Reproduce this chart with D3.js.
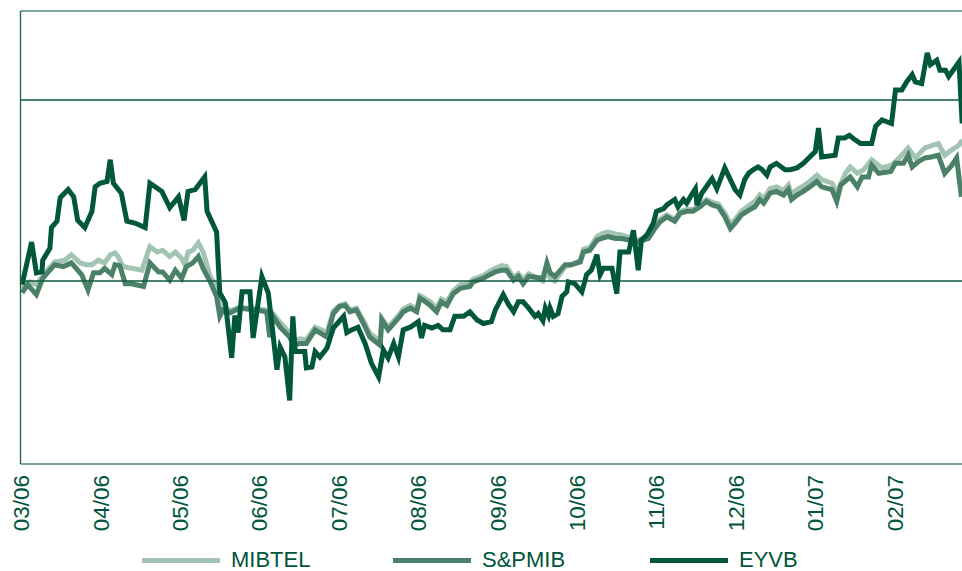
<!DOCTYPE html>
<html>
<head>
<meta charset="utf-8">
<script src="https://cdn.jsdelivr.net/npm/d3@7"></script>
<style>
body { margin: 0; background: #fff; }
</style>
</head>
<body>
<div id="chart"></div>
<script>
// month labels, one per tick (x value = months since 03/06)
var tickLabels = ["03/06", "04/06", "05/06", "06/06", "07/06", "08/06",
                  "09/06", "10/06", "11/06", "12/06", "01/07", "02/07"];
var seriesNames = ["MIBTEL", "S&PMIB", "EYVB"];
var gridValues = [100, 120];

// [month, index value]
var mibtel = [
    [0.02, 99.2], [0.12, 99.9], [0.20, 99.6], [0.31, 100.9], [0.43, 102.1], [0.56, 102.3], [0.64, 102.9],
    [0.75, 102.0], [0.83, 101.8], [0.90, 101.8], [0.98, 102.3], [1.06, 102.0], [1.13, 102.9], [1.19, 103.1],
    [1.23, 102.7], [1.29, 101.6], [1.40, 101.4], [1.53, 101.2], [1.63, 103.8], [1.72, 103.2], [1.79, 103.4],
    [1.88, 102.7], [1.95, 103.2], [2.03, 102.5], [2.07, 101.8], [2.11, 103.2], [2.17, 103.4], [2.24, 104.2],
    [2.30, 103.2], [2.39, 100.5], [2.47, 99.4], [2.51, 96.8], [2.55, 97.3], [2.64, 96.7], [2.76, 97.1],
    [2.97, 96.9], [3.10, 96.8], [3.14, 94.6], [3.18, 96.4], [3.27, 95.4], [3.39, 94.3], [3.44, 93.4],
    [3.52, 93.6], [3.60, 93.5], [3.71, 94.9], [3.86, 94.3], [3.94, 96.7], [4.02, 97.3], [4.09, 97.5],
    [4.15, 96.8], [4.23, 97.0], [4.32, 95.6], [4.40, 94.2], [4.53, 93.4], [4.55, 95.9], [4.63, 94.9],
    [4.70, 95.6], [4.78, 96.4], [4.82, 96.9], [4.91, 97.3], [4.99, 96.9], [5.03, 98.4], [5.07, 98.2],
    [5.16, 97.7], [5.24, 97.0], [5.30, 98.0], [5.37, 97.7], [5.45, 98.9], [5.54, 99.6], [5.66, 99.8],
    [5.70, 100.2], [5.83, 100.6], [5.91, 101.1], [5.98, 101.4], [6.06, 101.7], [6.12, 101.6], [6.21, 100.4],
    [6.27, 100.8], [6.33, 100.2], [6.40, 100.8], [6.58, 100.0], [6.63, 101.4], [6.67, 100.3], [6.73, 100.0],
    [6.77, 100.5], [6.86, 101.6], [6.94, 101.8], [7.05, 102.3], [7.09, 103.5], [7.17, 103.7], [7.26, 104.9],
    [7.32, 105.2], [7.40, 105.4], [7.49, 105.2], [7.57, 105.1], [7.68, 104.8], [7.76, 104.5], [7.84, 104.7],
    [7.91, 105.0], [7.99, 106.1], [8.05, 106.8], [8.14, 107.3], [8.24, 106.8], [8.31, 107.7], [8.39, 107.9],
    [8.47, 107.9], [8.56, 108.5], [8.64, 109.0], [8.71, 108.7], [8.79, 108.5], [8.87, 107.5], [8.94, 106.3],
    [9.00, 106.8], [9.08, 107.7], [9.17, 108.3], [9.25, 108.8], [9.31, 109.5], [9.36, 109.1], [9.44, 110.2],
    [9.52, 110.4], [9.61, 110.0], [9.67, 110.6], [9.71, 109.6], [9.78, 110.1], [9.86, 110.5], [9.94, 111.0],
    [10.03, 111.7], [10.09, 111.2], [10.22, 110.8], [10.28, 109.7], [10.39, 111.9], [10.45, 112.6],
    [10.54, 111.9], [10.62, 112.3], [10.72, 113.4], [10.85, 112.5], [10.97, 112.8], [11.08, 113.7],
    [11.18, 114.7], [11.27, 113.6], [11.39, 114.7], [11.56, 115.2], [11.64, 113.9], [11.73, 114.5],
    [11.82, 115.0], [11.86, 115.6]
];

var spmib = [
    [0.02, 98.7], [0.09, 99.6], [0.20, 98.5], [0.28, 100.3], [0.43, 101.8], [0.54, 101.6], [0.64, 102.0],
    [0.77, 100.7], [0.85, 99.0], [0.92, 100.9], [1.00, 100.9], [1.06, 101.4], [1.15, 100.7], [1.19, 101.8],
    [1.25, 101.7], [1.32, 99.7], [1.40, 99.7], [1.55, 99.4], [1.63, 102.0], [1.74, 101.0], [1.79, 101.0],
    [1.88, 100.1], [1.95, 101.2], [2.03, 100.3], [2.09, 101.6], [2.17, 102.0], [2.24, 102.7], [2.30, 101.4],
    [2.39, 99.9], [2.47, 98.3], [2.51, 96.1], [2.55, 96.8], [2.64, 96.5], [2.76, 97.0], [2.97, 96.8],
    [3.10, 96.6], [3.14, 93.8], [3.18, 96.1], [3.27, 94.9], [3.39, 93.8], [3.44, 92.9], [3.52, 93.1],
    [3.60, 93.1], [3.71, 94.6], [3.86, 93.8], [3.94, 96.4], [4.02, 97.2], [4.09, 97.3], [4.15, 96.6],
    [4.23, 96.8], [4.32, 95.3], [4.40, 93.8], [4.53, 92.9], [4.55, 95.7], [4.63, 94.6], [4.70, 95.3],
    [4.78, 96.1], [4.82, 96.6], [4.91, 97.0], [4.99, 96.6], [5.03, 98.1], [5.07, 97.9], [5.16, 97.3],
    [5.24, 96.6], [5.30, 97.7], [5.37, 97.3], [5.45, 98.6], [5.54, 99.2], [5.66, 99.4], [5.70, 99.9],
    [5.83, 100.3], [5.91, 100.7], [5.98, 101.0], [6.06, 101.2], [6.12, 101.2], [6.21, 100.1], [6.27, 100.5],
    [6.33, 99.7], [6.40, 100.5], [6.58, 100.3], [6.63, 102.0], [6.67, 100.9], [6.73, 100.5], [6.77, 100.9],
    [6.86, 101.8], [6.94, 101.8], [7.05, 102.1], [7.09, 103.2], [7.17, 103.4], [7.26, 104.5], [7.32, 104.7],
    [7.40, 104.9], [7.49, 104.7], [7.57, 104.7], [7.68, 104.5], [7.76, 104.3], [7.84, 104.5], [7.91, 104.7],
    [7.99, 105.8], [8.05, 106.5], [8.14, 107.1], [8.24, 106.6], [8.31, 107.5], [8.39, 107.7], [8.47, 107.7],
    [8.56, 108.2], [8.64, 108.8], [8.71, 108.4], [8.79, 108.2], [8.87, 107.1], [8.94, 105.8], [9.00, 106.4],
    [9.08, 107.3], [9.17, 107.8], [9.25, 108.2], [9.31, 109.0], [9.36, 108.6], [9.44, 109.7], [9.52, 109.9],
    [9.61, 109.5], [9.67, 110.1], [9.71, 109.0], [9.78, 109.5], [9.86, 109.9], [9.94, 110.4], [10.03, 111.0],
    [10.09, 110.4], [10.22, 110.1], [10.28, 108.8], [10.33, 110.6], [10.45, 111.5], [10.54, 110.4],
    [10.60, 111.5], [10.68, 111.5], [10.72, 112.8], [10.81, 111.9], [10.96, 112.1], [11.02, 113.0],
    [11.12, 113.0], [11.18, 113.9], [11.23, 112.6], [11.31, 113.2], [11.39, 113.6], [11.47, 113.7],
    [11.56, 113.9], [11.64, 111.9], [11.73, 112.8], [11.79, 113.6], [11.85, 109.3]
];

var eyvb = [
    [0.02, 99.6], [0.14, 104.3], [0.20, 100.9], [0.27, 101.0], [0.28, 102.3], [0.37, 103.6], [0.39, 105.9],
    [0.46, 106.6], [0.50, 109.2], [0.60, 110.1], [0.67, 109.3], [0.72, 106.7], [0.81, 105.9], [0.90, 107.7],
    [0.94, 110.4], [1.00, 110.8], [1.09, 111.0], [1.13, 113.4], [1.17, 110.8], [1.27, 109.7], [1.34, 106.6],
    [1.44, 106.4], [1.57, 105.9], [1.63, 110.8], [1.78, 109.9], [1.88, 108.1], [1.99, 109.3], [2.06, 106.7],
    [2.11, 109.9], [2.20, 110.1], [2.32, 111.5], [2.35, 107.7], [2.47, 105.4], [2.51, 98.7], [2.58, 97.6],
    [2.66, 91.5], [2.70, 96.2], [2.74, 94.3], [2.79, 98.8], [2.89, 98.8], [2.93, 93.7], [3.04, 100.5],
    [3.12, 98.7], [3.16, 95.7], [3.23, 90.2], [3.27, 92.7], [3.33, 91.6], [3.39, 86.8], [3.43, 96.1],
    [3.46, 92.2], [3.58, 92.2], [3.60, 90.4], [3.67, 90.5], [3.71, 92.2], [3.77, 91.6], [3.86, 92.6],
    [3.94, 94.8], [4.07, 96.1], [4.11, 94.3], [4.17, 94.6], [4.25, 94.9], [4.34, 93.1], [4.42, 90.9],
    [4.51, 89.4], [4.57, 92.4], [4.63, 91.5], [4.70, 93.1], [4.76, 91.6], [4.82, 94.6], [4.91, 94.9],
    [5.01, 95.5], [5.05, 93.7], [5.09, 95.1], [5.18, 94.8], [5.26, 95.1], [5.32, 94.6], [5.41, 94.6],
    [5.47, 96.1], [5.58, 96.1], [5.66, 96.6], [5.75, 95.7], [5.83, 95.3], [5.93, 95.5], [5.98, 96.8],
    [6.08, 98.5], [6.14, 97.5], [6.21, 96.6], [6.27, 97.7], [6.33, 97.7], [6.40, 97.0], [6.48, 96.1],
    [6.52, 96.4], [6.58, 95.6], [6.61, 97.0], [6.65, 96.2], [6.67, 97.0], [6.71, 96.1], [6.77, 96.4],
    [6.82, 98.3], [6.88, 98.8], [6.90, 99.9], [6.98, 99.7], [7.07, 98.8], [7.13, 100.7], [7.19, 101.2],
    [7.26, 102.9], [7.30, 100.7], [7.34, 101.4], [7.45, 101.4], [7.51, 98.6], [7.55, 103.2], [7.66, 103.2],
    [7.72, 105.6], [7.78, 101.2], [7.82, 104.5], [7.89, 105.1], [7.97, 106.4], [8.01, 107.7], [8.10, 108.0],
    [8.14, 108.4], [8.24, 109.0], [8.28, 108.2], [8.35, 109.0], [8.39, 108.6], [8.45, 109.5], [8.50, 110.2],
    [8.52, 108.4], [8.58, 109.7], [8.62, 110.2], [8.71, 111.3], [8.77, 110.2], [8.87, 112.5], [8.94, 111.2],
    [9.00, 110.1], [9.06, 109.5], [9.12, 111.2], [9.17, 111.9], [9.23, 112.3], [9.29, 112.6], [9.34, 112.3],
    [9.40, 111.7], [9.44, 112.6], [9.52, 113.0], [9.63, 112.3], [9.69, 112.3], [9.78, 112.5], [9.86, 113.0],
    [9.94, 113.7], [10.01, 114.3], [10.05, 116.9], [10.09, 113.7], [10.26, 113.9], [10.30, 115.8],
    [10.38, 115.8], [10.44, 116.1], [10.51, 115.6], [10.58, 115.2], [10.72, 115.2], [10.77, 117.1],
    [10.85, 117.8], [10.91, 117.6], [10.97, 117.4], [11.02, 121.1], [11.10, 121.1], [11.16, 122.0],
    [11.23, 122.8], [11.27, 122.0], [11.35, 121.8], [11.42, 125.2], [11.46, 123.9], [11.54, 124.4],
    [11.58, 123.3], [11.65, 123.3], [11.69, 122.6], [11.82, 124.2], [11.86, 117.4]
];

var width = 962;
var height = 571;
var plotLeft = 20.5;
var plotTop = 11;
var plotBottom = 464;
var colors = ["#a3c3b4", "#4c8169", "#00573b"];
var textColor = "#00553a";
var font = "'Liberation Sans', Arial, Helvetica, sans-serif";

var x = d3.scaleLinear().domain([0, 12]).range([plotLeft, plotLeft + 12 * 79.4]);
var y = d3.scaleLinear().domain([80, 120]).range([462, 100]);

var svg = d3.select("#chart")
    .append("svg")
    .attr("width", width)
    .attr("height", height);

// series lines
var line = d3.line()
    .x(function(d) { return x(d[0]); })
    .y(function(d) { return y(d[1]); });

svg.selectAll("path.series")
    .data([mibtel, spmib, eyvb])
    .enter()
    .append("path")
    .attr("class", "series")
    .attr("d", line)
    .attr("fill", "none")
    .attr("stroke", function(d, i) { return colors[i]; })
    .attr("stroke-width", 5)
    .attr("stroke-linejoin", "miter");

// grid lines on top
svg.selectAll("line.grid")
    .data(gridValues)
    .enter()
    .append("line")
    .attr("class", "grid")
    .attr("x1", plotLeft)
    .attr("x2", width)
    .attr("y1", function(d) { return y(d); })
    .attr("y2", function(d) { return y(d); })
    .attr("stroke", "#0e5b3f")
    .attr("stroke-width", 1.3);

// frame
svg.append("line")
    .attr("x1", plotLeft).attr("x2", width)
    .attr("y1", plotTop).attr("y2", plotTop)
    .attr("stroke", "#4f8a70").attr("stroke-width", 1.3);
svg.append("line")
    .attr("x1", plotLeft).attr("x2", width)
    .attr("y1", plotBottom).attr("y2", plotBottom)
    .attr("stroke", "#4f8a70").attr("stroke-width", 1.3);
svg.append("line")
    .attr("x1", plotLeft).attr("x2", plotLeft)
    .attr("y1", plotTop).attr("y2", plotBottom)
    .attr("stroke", "#1d5c43").attr("stroke-width", 1.3);

// x axis, rotated month labels
var xAxis = d3.axisBottom(x)
    .tickValues(d3.range(tickLabels.length))
    .tickFormat(function(d) { return tickLabels[d]; })
    .tickSize(0);

var gx = svg.append("g")
    .attr("transform", "translate(0," + plotBottom + ")")
    .call(xAxis)
    .attr("font-family", font)
    .attr("font-size", 22.5);

gx.select(".domain").remove();
gx.selectAll("text")
    .attr("transform", "rotate(-90)")
    .attr("x", -11)
    .attr("y", 0)
    .attr("dy", "0.36em")
    .attr("fill", textColor)
    .style("text-anchor", "end");

// legend
var legendX = [142, 393, 650];
var legend = svg.selectAll("g.legend")
    .data(seriesNames)
    .enter()
    .append("g")
    .attr("class", "legend")
    .attr("transform", function(d, i) { return "translate(" + legendX[i] + ",0)"; });

legend.append("line")
    .attr("x1", 0).attr("x2", 78)
    .attr("y1", 560.5).attr("y2", 560.5)
    .attr("stroke", function(d, i) { return colors[i]; })
    .attr("stroke-width", 5);

legend.append("text")
    .attr("x", 89)
    .attr("y", 566.5)
    .attr("font-family", font)
    .attr("font-size", 22)
    .attr("fill", textColor)
    .text(function(d) { return d; });
</script>
</body>
</html>
